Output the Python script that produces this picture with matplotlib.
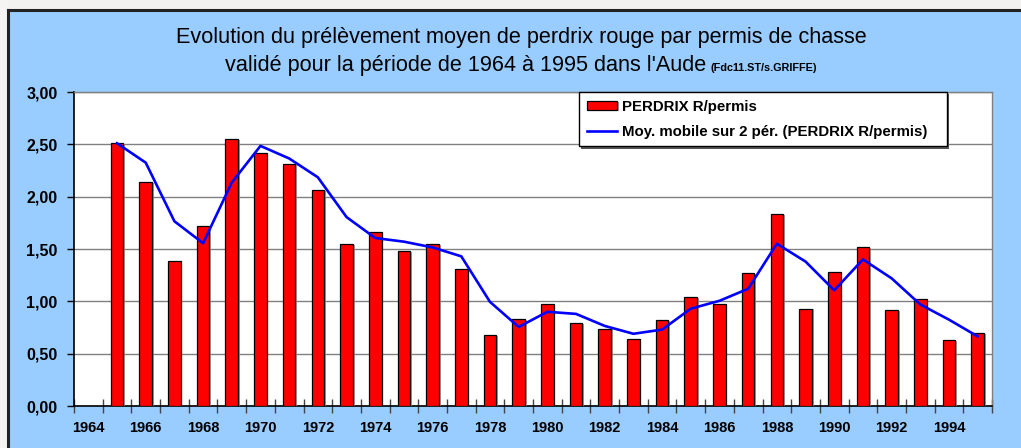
import numpy as np
import matplotlib
matplotlib.use("Agg")
import matplotlib.pyplot as plt
import matplotlib.patheffects as pe
from matplotlib.ticker import FixedLocator, FuncFormatter
from matplotlib.patches import Rectangle
from matplotlib.lines import Line2D

# ---- data ----
years = list(range(1964, 1996))
perdrix = [np.nan, 2.51, 2.14, 1.39, 1.72, 2.55, 2.42, 2.31, 2.06, 1.55, 1.66,
           1.48, 1.55, 1.31, 0.68, 0.83, 0.97, 0.79, 0.74, 0.64, 0.82, 1.04,
           0.97, 1.27, 1.83, 0.93, 1.28, 1.52, 0.92, 1.02, 0.63, 0.70]
title_line1 = "Evolution du prélèvement moyen de perdrix rouge par permis de chasse"
title_line2 = "validé pour la période de 1964 à 1995 dans l'Aude"
title_source = "(Fdc11.ST/s.GRIFFE)"
bar_label = "PERDRIX R/permis"
line_label = "Moy. mobile sur 2 pér. (PERDRIX R/permis)"
y_ticks = [0.0, 0.5, 1.0, 1.5, 2.0, 2.5, 3.0]

# 2-period moving average (as in the spreadsheet trend line)
vals = np.array(perdrix, dtype=float)
mov = np.full(len(vals), np.nan)
for i in range(1, len(vals)):
    pair = vals[i - 1:i + 1]
    pair = pair[~np.isnan(pair)]
    if len(pair):
        mov[i] = pair.mean()

plt.rcParams['font.family'] = ['Liberation Sans', 'DejaVu Sans']

W, H = 1021, 448
fig = plt.figure(figsize=(W / 100, H / 100), dpi=100)
fig.patch.set_facecolor('#99CCFF')

# top white strip and panel border
fig.patches.append(Rectangle((0, 1 - 9.5 / H), 1, 9.5 / H, transform=fig.transFigure,
                             facecolor='#f4f2f0', edgecolor='none', zorder=0))
fig.patches.append(Rectangle((0, 0), 7.5 / W, 1, transform=fig.transFigure,
                             facecolor='#f6f4f2', edgecolor='none', zorder=0))
fig.add_artist(Line2D([7.5 / W, 1], [1 - 10 / H, 1 - 10 / H], transform=fig.transFigure,
                      color='#222222', lw=2.2))
fig.add_artist(Line2D([8 / W, 8 / W], [0, 1 - 10 / H], transform=fig.transFigure,
                      color='#222222', lw=2.2))

left, right, top, bottom = 74, 992, 92, 406
ax = fig.add_axes([left / W, 1 - bottom / H, (right - left) / W, (bottom - top) / H])
ax.set_facecolor('white')

x = np.arange(len(years))
bars = ax.bar(x, vals, width=0.44, color='#FF0000', edgecolor='black', linewidth=0.9,
              zorder=3, label=bar_label)
for b in bars:
    b.set_path_effects([pe.SimplePatchShadow(offset=(1.2, -0.6), shadow_rgbFace='#888888', alpha=0.8),
                        pe.Normal()])
line, = ax.plot(x, mov, color='#0000FF', lw=1.9, zorder=4, label=line_label)

ax.set_xlim(-0.5, len(years) - 0.5)
ax.set_ylim(0, 3.0)
ax.yaxis.set_major_locator(FixedLocator(y_ticks))
ax.yaxis.set_major_formatter(FuncFormatter(lambda v, p: f"{v:.2f}".replace('.', ',')))
ax.grid(axis='y', color='#808080', lw=1.0, zorder=1)
ax.set_axisbelow(True)

ax.set_xticks(x[::2])
ax.set_xticklabels([str(y) for y in years[::2]])
ax.set_xticks(np.arange(-0.5, len(years)), minor=True)
ax.tick_params(axis='x', which='major', length=0, pad=11)
ax.tick_params(axis='x', which='minor', direction='inout', length=10, width=1.0, color='#444444')
ax.tick_params(axis='y', which='major', direction='out', length=5, width=1.0, color='black', pad=7)
for lab in ax.get_xticklabels():
    lab.set_fontweight('bold'); lab.set_fontsize(10.5)
for lab in ax.get_yticklabels():
    lab.set_fontweight('bold'); lab.set_fontsize(11.5)

for s in ['left', 'bottom']:
    ax.spines[s].set_color('black'); ax.spines[s].set_linewidth(1.2)
for s in ['top', 'right']:
    ax.spines[s].set_color('#808080'); ax.spines[s].set_linewidth(1.0)

# legend drawn as a white box with a dark shadow
lx0, lx1, ly0, ly1 = 579, 947, 92, 147
ax_pos = lambda px, py: ((px - left) / (right - left), (bottom - py) / (bottom - top))
fx0, fy1 = ax_pos(lx0, ly0)
fx1, fy0 = ax_pos(lx1, ly1)
shadow = Rectangle((fx0 + 2 / (right - left), fy0 - 2 / (bottom - top)), fx1 - fx0, fy1 - fy0,
                   transform=ax.transAxes, facecolor='#555555', edgecolor='none', zorder=9)
ax.add_patch(shadow)
leg = ax.legend(handles=[bars, line], labels=[bar_label, line_label],
                loc='upper left', bbox_to_anchor=(fx0, fy1, fx1 - fx0, 0.0), mode='expand',
                frameon=True, fancybox=False, shadow=False, borderaxespad=0, framealpha=1,
                prop={'weight': 'bold', 'size': 10.8}, handlelength=2.05, handleheight=0.55,
                handletextpad=0.3, labelspacing=0.75, borderpad=0.5)
leg.get_frame().set_edgecolor('black')
leg.get_frame().set_facecolor('white')
leg.get_frame().set_linewidth(1.0)
leg.set_zorder(10)

# title
fig.text(521 / W, 1 - 38 / H, title_line1, ha='center', va='center', fontsize=15.6)
t2 = fig.text(0, 1 - 66 / H, title_line2, ha='left', va='center', fontsize=15.6)
t3 = fig.text(0, 1 - 68 / H, title_source, ha='left', va='center', fontsize=7.8, fontweight='bold')
fig.canvas.draw()
r = fig.canvas.get_renderer()
w2 = t2.get_window_extent(r).width
w3 = t3.get_window_extent(r).width
gap = 5
start = 521 - (w2 + gap + w3) / 2
t2.set_x(start / W)
t3.set_x((start + w2 + gap) / W)

fig.savefig('out.png', dpi=100, facecolor=fig.get_facecolor())
